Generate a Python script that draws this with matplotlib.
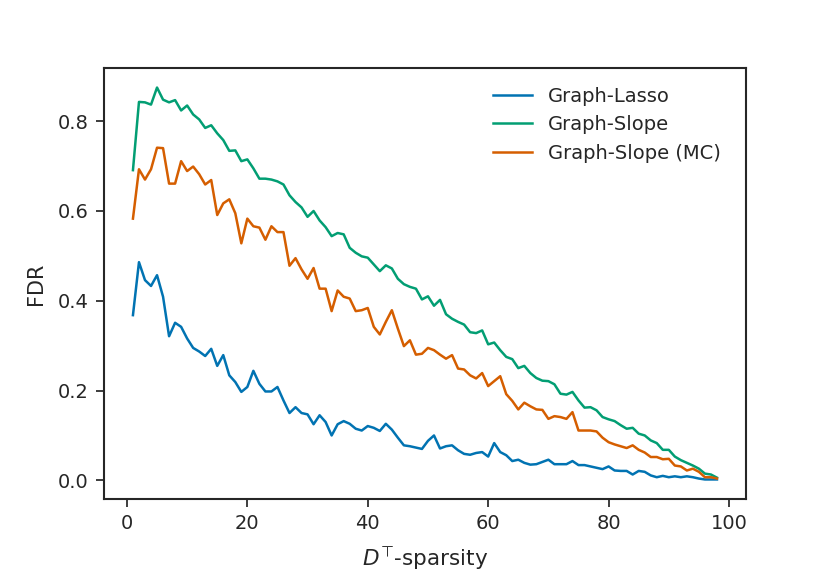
import matplotlib
matplotlib.use("Agg")
import matplotlib.pyplot as plt
import numpy as np

x = list(range(1, 99))

graph_lasso = [0.368, 0.486, 0.446, 0.433, 0.457, 0.409, 0.321, 0.351, 0.342, 0.316,
               0.295, 0.287, 0.277, 0.293, 0.255, 0.279, 0.234, 0.219, 0.197, 0.208,
               0.244, 0.215, 0.198, 0.198, 0.208, 0.178, 0.150, 0.163, 0.150, 0.147,
               0.125, 0.145, 0.130, 0.100, 0.125, 0.132, 0.126, 0.115, 0.111, 0.121,
               0.117, 0.110, 0.126, 0.113, 0.095, 0.078, 0.076, 0.073, 0.070, 0.088,
               0.100, 0.071, 0.076, 0.078, 0.067, 0.059, 0.057, 0.061, 0.063, 0.053,
               0.083, 0.063, 0.056, 0.043, 0.046, 0.039, 0.035, 0.036, 0.041, 0.046,
               0.036, 0.036, 0.036, 0.043, 0.034, 0.034, 0.031, 0.028, 0.025, 0.031,
               0.022, 0.021, 0.021, 0.013, 0.021, 0.019, 0.011, 0.007, 0.010, 0.007,
               0.009, 0.007, 0.009, 0.007, 0.004, 0.002, 0.002, 0.002]

graph_slope = [0.691, 0.843, 0.842, 0.837, 0.875, 0.848, 0.842, 0.847, 0.824, 0.835,
               0.815, 0.804, 0.785, 0.791, 0.773, 0.758, 0.734, 0.735, 0.711, 0.715,
               0.695, 0.672, 0.672, 0.670, 0.666, 0.659, 0.635, 0.620, 0.608, 0.587,
               0.600, 0.579, 0.564, 0.544, 0.551, 0.548, 0.518, 0.507, 0.499, 0.496,
               0.481, 0.466, 0.479, 0.472, 0.449, 0.437, 0.431, 0.427, 0.403, 0.410,
               0.389, 0.402, 0.370, 0.360, 0.353, 0.347, 0.330, 0.328, 0.334, 0.303,
               0.307, 0.290, 0.275, 0.270, 0.250, 0.255, 0.239, 0.228, 0.222, 0.221,
               0.214, 0.193, 0.191, 0.197, 0.178, 0.162, 0.163, 0.156, 0.141, 0.136,
               0.132, 0.123, 0.115, 0.117, 0.104, 0.100, 0.089, 0.083, 0.068, 0.068,
               0.053, 0.045, 0.039, 0.033, 0.026, 0.015, 0.013, 0.006]

graph_slope_mc = [0.583, 0.693, 0.670, 0.693, 0.741, 0.740, 0.661, 0.661, 0.711, 0.689,
                  0.699, 0.682, 0.659, 0.669, 0.591, 0.617, 0.626, 0.595, 0.528, 0.583,
                  0.566, 0.563, 0.536, 0.566, 0.553, 0.553, 0.478, 0.495, 0.470, 0.449,
                  0.473, 0.427, 0.427, 0.377, 0.423, 0.409, 0.405, 0.377, 0.379, 0.384,
                  0.342, 0.325, 0.353, 0.379, 0.338, 0.299, 0.312, 0.280, 0.282, 0.295,
                  0.290, 0.280, 0.271, 0.279, 0.249, 0.247, 0.234, 0.227, 0.239, 0.210,
                  0.221, 0.232, 0.192, 0.177, 0.158, 0.173, 0.165, 0.158, 0.157, 0.137,
                  0.143, 0.141, 0.137, 0.152, 0.111, 0.111, 0.111, 0.109, 0.095, 0.085,
                  0.080, 0.076, 0.072, 0.078, 0.068, 0.062, 0.052, 0.052, 0.047, 0.048,
                  0.033, 0.031, 0.022, 0.026, 0.019, 0.007, 0.007, 0.004]

series_names = ["Graph-Lasso", "Graph-Slope", "Graph-Slope (MC)"]
colors = ["#0173b2", "#029e73", "#d55e00"]

plt.rcParams['font.family'] = ['DejaVu Sans']
fig = plt.figure(figsize=(8.3, 5.71), dpi=100)
ax = fig.add_axes([0.125, 0.126, 0.774, 0.755])

for ys, name, c in zip([graph_lasso, graph_slope, graph_slope_mc], series_names, colors):
    ax.plot(x, ys, color=c, lw=1.8, label=name)

ax.set_xticks([0, 20, 40, 60, 80, 100])
ax.set_yticks([0.0, 0.2, 0.4, 0.6, 0.8])
ax.set_xlabel('$D^{⊤}$-sparsity', fontsize=15.5, labelpad=8)
ax.set_ylabel('FDR', fontsize=15, labelpad=8)
ax.tick_params(axis='both', labelsize=14, direction='out', length=6, width=1.25,
               color='#262626', labelcolor='#262626', pad=5)
for s in ax.spines.values():
    s.set_linewidth(1.5)
    s.set_color('#262626')
ax.xaxis.label.set_color('#262626')
ax.yaxis.label.set_color('#262626')

leg = ax.legend(loc='upper right', frameon=False, fontsize=14,
                bbox_to_anchor=(0.972, 0.975), borderaxespad=0.0, labelspacing=0.5)
for t in leg.get_texts():
    t.set_color('#262626')

fig.savefig('out.png', dpi=100)
